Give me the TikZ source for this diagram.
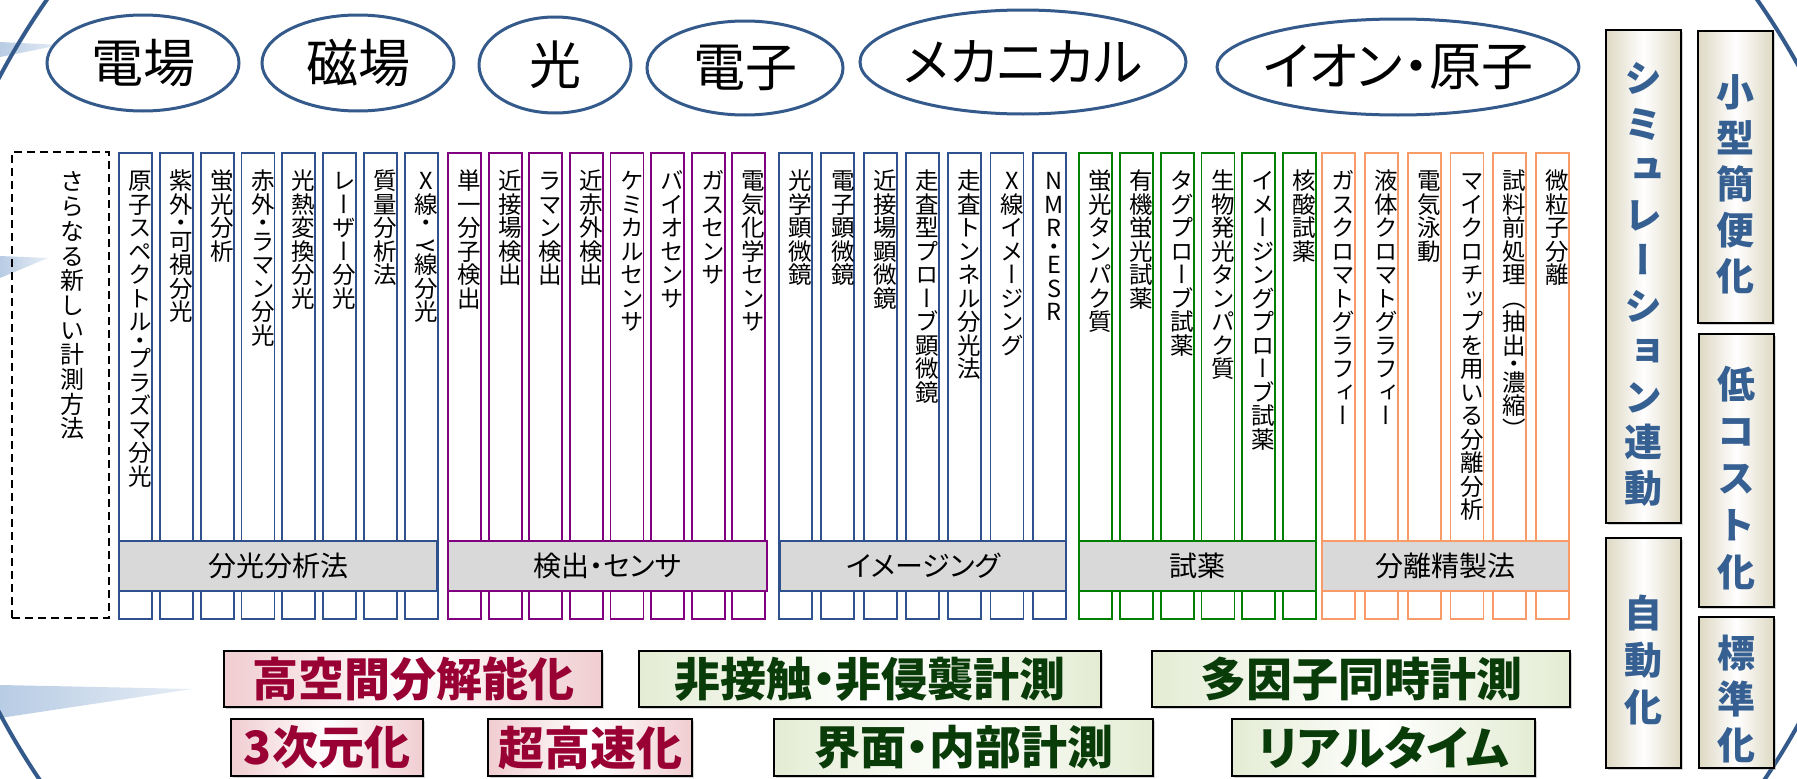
\documentclass[tikz,border=0pt]{standalone}
\usepackage{fontspec}
\usepackage{graphicx}
\setmainfont{Noto Sans CJK JP}
\newfontfamily\hfont{Noto Sans CJK JP}[RawFeature=+palt]
\newfontfamily\vfont{Noto Sans CJK JP}[RawFeature=+vert]
\usetikzlibrary{shapes.geometric,shadows}

\ExplSyntaxOn
\NewDocumentCommand\vt{m}{
  \tl_set:Nx \l_tmpa_tl {#1}
  \tl_map_inline:Nn \l_tmpa_tl { \vtchar{##1} }
}
\ExplSyntaxOff
\newcommand\vtchar[1]{%
  \ifx γ#1\par\rotatebox[origin=c]{-90}{γ}%
  \else\ifx ・#1\par\vspace{-5pt}・\par\vspace{-5pt}%
  \else\par #1\fi\fi}

\definecolor{cblue}{RGB}{47,82,143}
\definecolor{cpurple}{RGB}{128,0,128}
\definecolor{cgreen}{RGB}{0,128,0}
\definecolor{corange}{RGB}{248,155,105}
\definecolor{barfill}{RGB}{217,217,217}
\definecolor{ringblue}{RGB}{52,90,140}
\definecolor{beige}{RGB}{221,217,195}
\definecolor{btext}{RGB}{55,96,146}
\definecolor{pinkfill}{RGB}{240,205,208}
\definecolor{redtext}{RGB}{153,0,51}
\definecolor{greenfill}{RGB}{228,236,212}
\definecolor{gtext}{RGB}{10,60,10}
\definecolor{wedge}{RGB}{184,204,228}

\tikzset{
  colbox/.style={draw=#1, line width=1.8pt, minimum width=33pt, minimum height=466pt, inner sep=0pt, fill=white},
  coltext/.style={anchor=north, inner sep=0pt, text width=28pt, align=center, font=\vfont\fontsize{23.5}{23.5}\selectfont},
  newtext/.style={anchor=north, inner sep=0pt, text width=28pt, align=center, font=\vfont\fontsize{24}{24.7}\selectfont},
  barbox/.style={draw=#1, fill=barfill, line width=2pt, inner sep=0pt, minimum height=50pt, font=\hfont\fontsize{28}{30}\selectfont},
  field/.style={draw=ringblue, line width=3pt, ellipse, inner sep=0pt, font=\hfont\fontsize{52}{56}\selectfont},
  sidebox/.style={draw=black, line width=2.5pt, left color=beige, right color=beige, middle color=white, minimum width=75pt, inner sep=0pt, text width=44pt, align=center, text=btext, font=\vfont\bfseries\fontsize{38}{#1}\selectfont, drop shadow={opacity=0.35, shadow xshift=2pt, shadow yshift=-2pt}},
  goal/.style 2 args={draw=black, line width=2.5pt, left color=#1, right color=#1, middle color=white, text=#2, inner sep=0pt, font=\hfont\bfseries\fontsize{46}{48}\selectfont, drop shadow={opacity=0.35, shadow xshift=2pt, shadow yshift=-2pt}},
  ring/.style={draw=ringblue, line width=4pt},
  wedgefill/.style={left color=wedge, right color=wedge!35}
}

\begin{document}
\setlength{\lineskiplimit}{-50pt}%
\begin{tikzpicture}[x=1pt, y=-1pt]
\useasboundingbox (0,0) rectangle (1797,779);
\fill[white] (0,0) rectangle (1797,779);

% pale beams and the big ring
\begin{scope}
\clip (0,0) rectangle (1797,779);
\shade[wedgefill] (0,42) -- (60,45) -- (0,57) -- cycle;
\shade[wedgefill] (0,256) -- (48,258) -- (0,278) -- cycle;
\shade[wedgefill] (0,685) -- (192,689) -- (0,718) -- cycle;
\draw[ring] (902,395) ellipse [x radius=983pt, y radius=801pt];
\end{scope}

% fields
\node[field, minimum width=192pt, minimum height=96pt] (ef) at (143,63) {\makebox[0pt]{電場}};
\node[field, minimum width=192pt, minimum height=96pt] (mf) at (358,63) {\makebox[0pt]{磁場}};
\node[field, minimum width=152pt, minimum height=96pt] (li) at (555,65) {\makebox[0pt]{光}};
\node[field, minimum width=196pt, minimum height=94pt] (el) at (745,68) {\makebox[0pt]{電子}};
\node[field, minimum width=326pt, minimum height=104pt] (me) at (1023,62) {\makebox[0pt]{メカニカル}};
\node[field, minimum width=362pt, minimum height=96pt] (io) at (1398,67) {\makebox[0pt]{イオン・原子}};

% new methods (dashed)
\node[draw, line width=1.5pt, dash pattern=on 8pt off 5pt, minimum width=97pt, minimum height=466pt, inner sep=0pt] (nw) at (60.5,385) {};
\node[newtext] (nwt) at (72,166) {\vt{さらなる新しい計測方法}};

% spectroscopy
\foreach \t [count=\i from 0] in {原子スペクトル・プラズマ分光,紫外・可視分光,蛍光分析,赤外・ラマン分光,光熱変換分光,レーザー分光,質量分析法,X線・γ線分光} {
  \pgfmathsetmacro\cx{119+40.8*\i+16.5}
  \node[colbox=cblue] (sp\i) at (\cx,386) {};
  \node[coltext] (spt\i) at (\cx+5,166) {\vt{\t}};
}
% detection
\foreach \t [count=\i from 0] in {単一分子検出,近接場検出,ラマン検出,近赤外検出,ケミカルセンサ,バイオセンサ,ガスセンサ,電気化学センサ} {
  \pgfmathsetmacro\cx{448+40.6*\i+16.5}
  \node[colbox=cpurple] (de\i) at (\cx,386) {};
  \node[coltext] (det\i) at (\cx+5,166) {\vt{\t}};
}
% imaging
\foreach \t [count=\i from 0] in {光学顕微鏡,電子顕微鏡,近接場顕微鏡,走査型プローブ顕微鏡,走査トンネル分光法,X線イメージング,NMR・ESR} {
  \pgfmathsetmacro\cx{779+42.3*\i+16.5}
  \node[colbox=cblue] (im\i) at (\cx,386) {};
  \node[coltext] (imt\i) at (\cx+5,166) {\vt{\t}};
}
% reagents
\foreach \t [count=\i from 0] in {蛍光タンパク質,有機蛍光試薬,タグプローブ試薬,生物発光タンパク質,イメージングプローブ試薬,核酸試薬} {
  \pgfmathsetmacro\cx{1079+40.8*\i+16.5}
  \node[colbox=cgreen] (re\i) at (\cx,386) {};
  \node[coltext] (ret\i) at (\cx+5,166) {\vt{\t}};
}
% separation
\foreach \t [count=\i from 0] in {ガスクロマトグラフィー,液体クロマトグラフィー,電気泳動,マイクロチップを用いる分離分析,試料前処理（抽出・濃縮）,微粒子分離} {
  \pgfmathsetmacro\cx{1322+42.8*\i+16.5}
  \node[colbox=corange] (se\i) at (\cx,386) {};
  \node[coltext] (set\i) at (\cx+5,166) {\vt{\t}};
}

% category bars
\node[barbox=cblue, minimum width=318pt] (b1) at (278,566) {分光分析法};
\node[barbox=cpurple, minimum width=319pt] (b2) at (607.5,566) {検出・センサ};
\node[barbox=cblue, minimum width=286pt] (b3) at (923,566) {イメージング};
\node[barbox=cgreen, minimum width=237pt] (b4) at (1197.5,566) {試薬};
\node[barbox=corange, minimum width=247pt] (b5) at (1445.5,566) {分離精製法};

% side boxes
\node[sidebox=45.5, minimum height=493pt] (sim) at (1643.5,276.5) {\vt{シミュレーション連動}};
\node[sidebox=46, minimum height=292pt] (small) at (1735.5,177) {\vt{小型簡便化}};
\node[sidebox=47, minimum height=273pt] (cost) at (1736.5,470.5) {\vt{低コスト化}};
\node[sidebox=47, minimum height=230pt] (auto) at (1643.5,653) {\vt{自動化}};
\node[sidebox=46, minimum height=151pt] (std) at (1736.5,692.5) {\vt{標準化}};

% goals
\node[goal={pinkfill}{redtext}, minimum width=378pt, minimum height=56pt] (hr) at (413,679) {高空間分解能化};
\node[goal={greenfill}{gtext}, minimum width=462pt, minimum height=56pt] (nc) at (870,679) {非接触・非侵襲計測};
\node[goal={greenfill}{gtext}, minimum width=418pt, minimum height=56pt] (mfac) at (1361,679) {多因子同時計測};
\node[goal={pinkfill}{redtext}, minimum width=192pt, minimum height=57pt] (td) at (327,747.5) {3次元化};
\node[goal={pinkfill}{redtext}, minimum width=204pt, minimum height=57pt] (fast) at (590,747.5) {超高速化};
\node[goal={greenfill}{gtext}, minimum width=379pt, minimum height=57pt] (inf) at (963.5,747.5) {界面・内部計測};
\node[goal={greenfill}{gtext}, minimum width=303pt, minimum height=57pt] (rt) at (1383.5,747.5) {リアルタイム};
\end{tikzpicture}
\end{document}
